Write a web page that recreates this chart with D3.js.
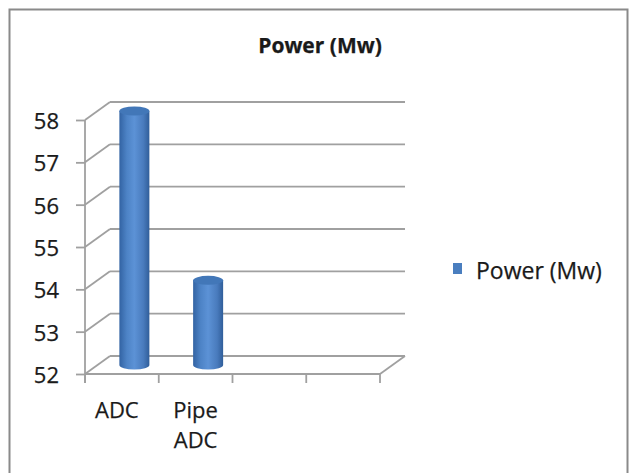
<!DOCTYPE html>
<html lang="en">
    <head>
        <meta charset="utf-8">
        <title>Power (Mw)</title>
        <script type="text/javascript" src="https://d3js.org/d3.v7.min.js"></script>
        <style type="text/css">
            body { margin: 0; background: #fff; }
            text { font-family: "Open Sans", "DejaVu Sans", sans-serif; fill: #1a1a1a; stroke: #1a1a1a; stroke-width: 0.25px; }
        </style>
    </head>
    <body>
        <script type="text/javascript">

        //Data
        const categories = ["ADC", "Pipe ADC", "", ""];
        const power = [58, 54];
        const yTicks = [52, 53, 54, 55, 56, 57, 58];
        const seriesName = "Power (Mw)";
        const chartTitle = "Power (Mw)";

        //Consts
        const width = 630;
        const height = 473;
        const depthX = 25;     // how far the back wall sits right of the front
        const depthY = -18;    // and how far up

        //Scales (front plane)
        const xScale = d3.scaleBand()
                        .domain(d3.range(categories.length))
                        .range([85, 380]);

        const yScale = d3.scaleLinear()
                        .domain([52, 58])
                        .range([374, 120]);

        const svg = d3.select("body")
                    .append("svg")
                    .attr("width", width)
                    .attr("height", height);

        //gradient for the cylinders
        const defs = svg.append("defs");
        const grad = defs.append("linearGradient")
                        .attr("id", "cyl")
                        .attr("x1", "0%").attr("x2", "100%")
                        .attr("y1", "0%").attr("y2", "0%");
        grad.append("stop").attr("offset", "0%").attr("stop-color", "#3263a3");
        grad.append("stop").attr("offset", "25%").attr("stop-color", "#4d83c6");
        grad.append("stop").attr("offset", "50%").attr("stop-color", "#5c92d6");
        grad.append("stop").attr("offset", "80%").attr("stop-color", "#497bbd");
        grad.append("stop").attr("offset", "100%").attr("stop-color", "#305e9a");

        //chart border
        svg.append("rect")
            .attr("x", 9.5)
            .attr("y", 9.5)
            .attr("width", 618)
            .attr("height", 490)
            .attr("fill", "none")
            .attr("stroke", "#8a8a8a")
            .attr("stroke-width", 2);

        //Title
        svg.append("text")
            .attr("x", 320)
            .attr("y", 53)
            .attr("text-anchor", "middle")
            .attr("font-size", "21px")
            .attr("font-weight", "bold")
            .text(chartTitle);

        const gridColor = "#a0a0a0";
        const x0 = xScale.range()[0];
        const x1 = xScale.range()[1];

        //back wall gridlines + side wall diagonals
        const grid = svg.append("g")
                        .attr("stroke", gridColor)
                        .attr("stroke-width", 1.8)
                        .attr("fill", "none");

        grid.selectAll(".back")
            .data(yTicks)
            .enter()
            .append("line")
            .attr("x1", x0 + depthX)
            .attr("x2", x1 + depthX)
            .attr("y1", d => yScale(d) + depthY)
            .attr("y2", d => yScale(d) + depthY);

        grid.selectAll(".side")
            .data(yTicks)
            .enter()
            .append("line")
            .attr("x1", x0)
            .attr("x2", x0 + depthX)
            .attr("y1", d => yScale(d))
            .attr("y2", d => yScale(d) + depthY);

        //floor: front edge and right edge
        grid.append("line")
            .attr("x1", x0).attr("x2", x1)
            .attr("y1", yScale(52)).attr("y2", yScale(52));
        grid.append("line")
            .attr("x1", x1).attr("x2", x1 + depthX)
            .attr("y1", yScale(52)).attr("y2", yScale(52) + depthY);

        //front vertical axis
        const leftAxis = d3.axisLeft(yScale)
                           .tickValues(yTicks)
                           .tickSize(9)
                           .tickPadding(17)
                           .tickFormat(d3.format("d"));

        const yAxisG = svg.append("g")
            .attr("transform", "translate(" + x0 + ",0)")
            .call(leftAxis);
        yAxisG.select(".domain")
            .attr("d", "M0," + yScale(58) + "V" + (yScale(52) + 9))
            .attr("stroke", gridColor)
            .attr("stroke-width", 1.8);
        yAxisG.selectAll(".tick line")
            .attr("stroke", gridColor)
            .attr("stroke-width", 1.8);
        yAxisG.selectAll(".tick text")
            .attr("font-size", "22px")
            .attr("font-family", null)
            .attr("fill", null)
            .attr("dy", "0.38em");

        //category axis (ticks at band edges)
        const edges = d3.range(categories.length + 1)
                        .map(i => x0 + i * xScale.step());
        svg.append("g")
            .selectAll("line")
            .data(edges)
            .enter()
            .append("line")
            .attr("x1", d => d).attr("x2", d => d)
            .attr("y1", yScale(52)).attr("y2", yScale(52) + 9)
            .attr("stroke", gridColor)
            .attr("stroke-width", 1.8);

        //category labels, wrapped to the band width
        const labelG = svg.append("g");
        categories.forEach((c, i) => {
            if (!c) return;
            const t = labelG.append("text")
                .attr("x", xScale(i) + xScale.bandwidth() / 2 - (i === 0 ? 5 : 0))
                .attr("y", 418)
                .attr("text-anchor", "middle")
                .attr("font-size", "22px");
            const words = c.split(" ");
            let line = [];
            let ts = t.append("tspan").attr("x", t.attr("x")).attr("dy", 0);
            words.forEach(w => {
                line.push(w);
                ts.text(line.join(" "));
                if (ts.node().getComputedTextLength() > xScale.bandwidth() && line.length > 1) {
                    line.pop();
                    ts.text(line.join(" "));
                    line = [w];
                    ts = t.append("tspan").attr("x", t.attr("x")).attr("dy", 30).text(w);
                }
            });
        });

        //Cylinders
        const rx = 15;
        const ry = 4.5;
        const bars = svg.append("g")
                        .selectAll("g")
                        .data(power)
                        .enter()
                        .append("g");

        const cx = (d, i) => xScale(i) + xScale.bandwidth() / 2 + depthX / 2;
        const yTop = d => yScale(d) + depthY / 2;
        const yBot = yScale(52) + depthY / 2;

        bars.append("path")
            .attr("d", (d, i) => {
                const c = cx(d, i);
                return "M" + (c - rx) + "," + yTop(d) +
                       "V" + yBot +
                       "A" + rx + "," + ry + " 0 0 0 " + (c + rx) + "," + yBot +
                       "V" + yTop(d) + "Z";
            })
            .attr("fill", "url(#cyl)");

        bars.append("ellipse")
            .attr("cx", (d, i) => cx(d, i))
            .attr("cy", d => yTop(d))
            .attr("rx", rx)
            .attr("ry", ry)
            .attr("fill", "#4277b8");

        //Legend
        const legend = svg.append("g");
        legend.append("rect")
            .attr("x", 453)
            .attr("y", 263)
            .attr("width", 9)
            .attr("height", 11)
            .attr("fill", "#4a7ebf");
        legend.append("text")
            .attr("x", 476)
            .attr("y", 279)
            .attr("font-size", "23px")
            .text(seriesName);

        </script>
    </body>
</html>
